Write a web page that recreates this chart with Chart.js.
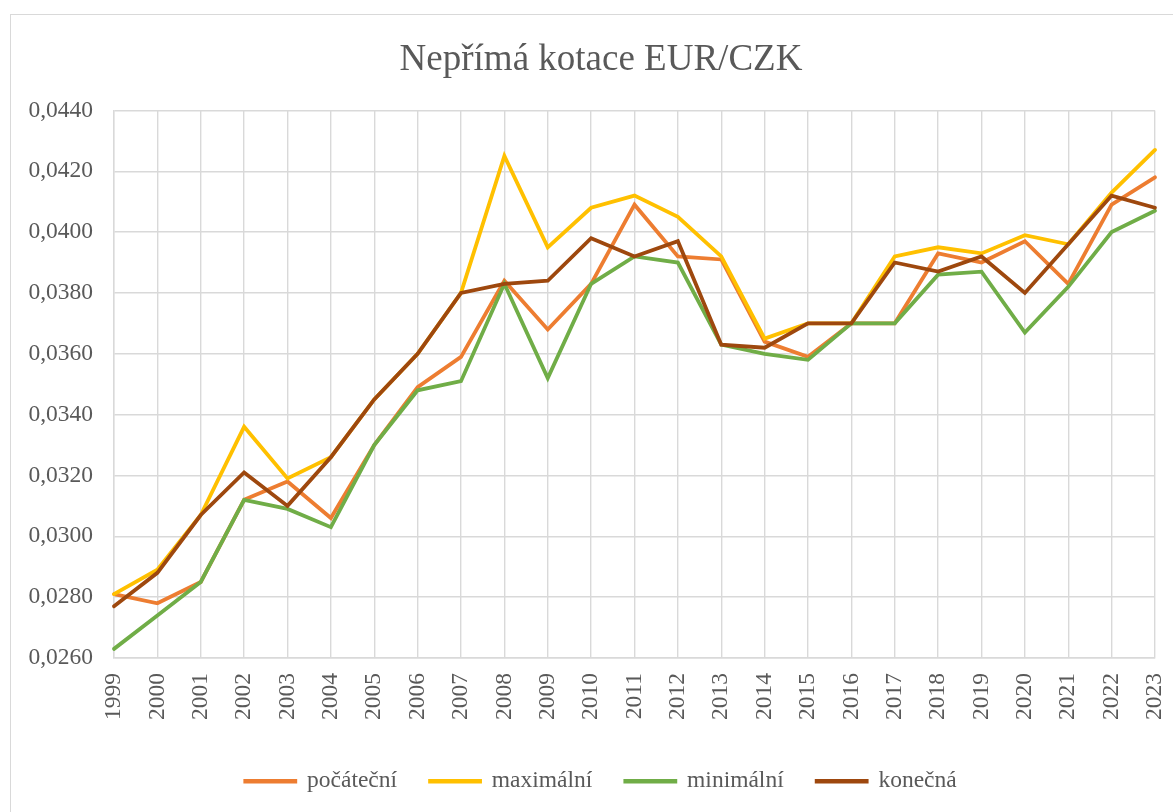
<!DOCTYPE html>
<html>
<head>
<meta charset="utf-8">
<title>Nepřímá kotace EUR/CZK</title>
<script src="https://cdn.jsdelivr.net/npm/chart.js@4"></script>
<style>
  html, body { margin: 0; padding: 0; background: #fff; overflow: hidden; }
  #wrap {
    position: absolute;
    left: 10px;
    top: 14px;
    border: 1px solid #d9d9d9;
    background: #fff;
  }
  canvas { display: block; }
</style>
</head>
<body>
<div id="wrap">
  <canvas id="kurz" width="1180" height="797"></canvas>
</div>
<script>
const roky = ["1999", "2000", "2001", "2002", "2003", "2004", "2005", "2006", "2007", "2008",
  "2009", "2010", "2011", "2012", "2013", "2014", "2015", "2016", "2017", "2018",
  "2019", "2020", "2021", "2022", "2023"];

const pocatecni = [0.0281, 0.0278, 0.0285, 0.0312, 0.0318, 0.0306, 0.0330, 0.0349, 0.0359, 0.0384,
  0.0368, 0.0383, 0.0409, 0.0392, 0.0391, 0.0364, 0.0359, 0.0370, 0.0370, 0.0393,
  0.0390, 0.0397, 0.0383, 0.0409, 0.0418];

const maximalni = [0.0281, 0.0289, 0.0307, 0.0336, 0.0319, 0.0326, 0.0345, 0.0360, 0.0380, 0.0425,
  0.0395, 0.0408, 0.0412, 0.0405, 0.0392, 0.0365, 0.0370, 0.0370, 0.0392, 0.0395,
  0.0393, 0.0399, 0.0396, 0.0413, 0.0427];

const minimalni = [0.0263, 0.0274, 0.0285, 0.0312, 0.0309, 0.0303, 0.0330, 0.0348, 0.0351, 0.0383,
  0.0352, 0.0383, 0.0392, 0.0390, 0.0363, 0.0360, 0.0358, 0.0370, 0.0370, 0.0386,
  0.0387, 0.0367, 0.0382, 0.0400, 0.0407];

const konecna = [0.0277, 0.0288, 0.0307, 0.0321, 0.0310, 0.0326, 0.0345, 0.0360, 0.0380, 0.0383,
  0.0384, 0.0398, 0.0392, 0.0397, 0.0363, 0.0362, 0.0370, 0.0370, 0.0390, 0.0387,
  0.0392, 0.0380, 0.0396, 0.0412, 0.0408];

const pismo = "'Liberation Serif', 'Times New Roman', serif";
const seda = "#595959";
const mrizka = "#d9d9d9";

function rada(label, data, barva, poradi) {
  return {
    label: label,
    data: data,
    borderColor: barva,
    backgroundColor: barva,
    borderWidth: 3.8,
    borderCapStyle: "round",
    pointRadius: 0,
    pointHoverRadius: 0,
    tension: 0,
    fill: false,
    order: poradi,
  };
}

new Chart(document.getElementById("kurz"), {
  type: "line",
  data: {
    labels: roky,
    datasets: [
      rada("počáteční", pocatecni, "#ED7D31", 4),
      rada("maximální", maximalni, "#FFC000", 3),
      rada("minimální", minimalni, "#70AD47", 2),
      rada("konečná", konecna, "#9E480E", 1),
    ],
  },
  options: {
    responsive: false,
    animation: false,
    layout: { padding: { left: 0, right: 0, top: 0, bottom: 9 } },
    plugins: {
      title: {
        display: true,
        text: "Nepřímá kotace EUR/CZK",
        color: seda,
        font: { family: pismo, size: 37, weight: "normal", lineHeight: 1.2 },
        padding: { top: 23, bottom: 28 },
      },
      legend: {
        position: "bottom",
        labels: {
          color: seda,
          font: { family: pismo, size: 23.5 },
          boxWidth: 50,
          boxHeight: 0.5,
          padding: 33,
          sort: (a, b) => a.datasetIndex - b.datasetIndex,
        },
      },
      tooltip: { enabled: false },
    },
    scales: {
      x: {
        offset: false,
        grid: { color: mrizka, lineWidth: 1.4, drawTicks: false },
        border: { color: mrizka, width: 1.4 },
        ticks: {
          color: seda,
          font: { family: pismo, size: 23.5 },
          minRotation: 90,
          maxRotation: 90,
          padding: 15,
          autoSkip: false,
        },
        afterFit: (s) => {
          s.height = 78.5;
          s.paddingRight = 36; // volny okraj vpravo od grafu
        },
      },
      y: {
        min: 0.026,
        max: 0.044,
        grid: { color: mrizka, lineWidth: 1.4, drawTicks: false },
        border: { color: mrizka, width: 1.4 },
        ticks: {
          stepSize: 0.002,
          color: seda,
          font: { family: pismo, size: 23.5 },
          padding: 21,
          callback: (v) => v.toFixed(4).replace(".", ","),
        },
        afterFit: (s) => { s.width = 103; },
      },
    },
  },
});
</script>
</body>
</html>
